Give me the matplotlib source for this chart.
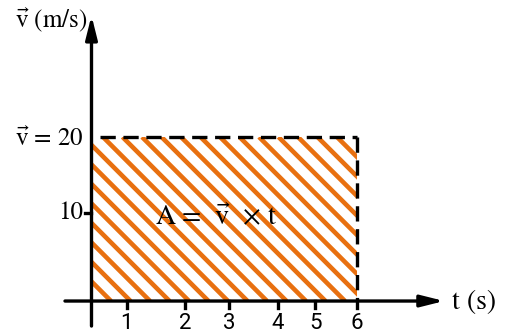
import matplotlib
matplotlib.use("Agg")
import matplotlib.pyplot as plt
import numpy as np

# chart values
t_end = 6          # s
v_const = 20       # m/s
t_ticks = ["1", "2", "3", "4", "5", "6"]
t_tick_pos = [0.80, 2.12, 3.11, 4.21, 5.06, 6.0]   # where the labels sit on the t axis
v_ticks = ["10"]
v_tick_pos = [10.7]

orange = "#E87010"

plt.rcParams["mathtext.fontset"] = "stix"
plt.rcParams["font.family"] = ["STIXGeneral", "DejaVu Sans"]
plt.rcParams["lines.scale_dashes"] = False


def main():
	fig = plt.figure(figsize=(5.13, 3.34), dpi=100)
	ax = fig.add_axes([0, 0, 1, 1])
	ax.set_xlim(-2.07, 9.536)
	ax.set_ylim(-4.02, 36.7)
	ax.axis("off")

	# area under v(t), filled with diagonal stripes clipped to the bar
	bars = ax.bar(0, v_const, width=t_end, align="edge", fill=False,
		linewidth=0)
	area = bars[0]
	# stripes at 45 degrees on screen: convert a pixel step into data units
	px_x = 44.2   # pixels per second
	px_y = 8.2    # pixels per m/s
	run = v_const * px_y / px_x
	step = 19.5 / px_x
	for x0 in np.arange(-run - step, t_end + step, step):
		ln, = ax.plot([x0, x0 + run], [v_const, 0], color=orange, lw=3.3,
			solid_capstyle="butt")
		ln.set_clip_path(area)

	# dashed border of the area
	ax.plot([0.2, t_end], [v_const, v_const], color="black", lw=2.4,
		dashes=(11, 5.5))
	ax.plot([t_end, t_end], [v_const, 0], color="black", lw=2.4,
		dashes=(11, 5.5))

	# axes with arrows
	arrow = dict(arrowstyle="-|>,head_length=1.4,head_width=0.35",
		color="black", lw=2.4, shrinkA=0, shrinkB=0)
	ax.annotate("", xy=(7.98, 0), xytext=(-0.6, 0), arrowprops=arrow)
	ax.annotate("", xy=(0, 34.8), xytext=(0, -3.05), arrowprops=arrow)

	# ticks on t axis
	for pos, lab in zip(t_tick_pos, t_ticks):
		ax.plot([pos, pos], [0, -0.85], color="black", lw=2.4)
		ax.text(pos, -2.7, lab, ha="center", va="center", fontsize=16,
			family=["Roboto", "DejaVu Sans"])

	# ticks on v axis
	for pos, lab in zip(v_tick_pos, v_ticks):
		ax.plot([-0.15, 0], [pos, pos], color="black", lw=2.4)
		ax.text(-0.19, pos, lab, ha="right", va="center", fontsize=18)

	ax.text(-0.17, 18.9, r"$\vec{\mathrm{v}}$ = 20", ha="right",
		va="baseline", fontsize=18)
	ax.text(-1.73, 33.4, r"$\vec{\mathrm{v}}$ (m/s)", ha="left",
		va="baseline", fontsize=18)
	ax.text(8.16, -0.98, "t (s)", ha="left", va="baseline", fontsize=20)
	ax.text(2.82, 9.4, r"A =  $\vec{\mathrm{v}}$  × t", ha="center",
		va="baseline", fontsize=20)

	fig.savefig("out.png", dpi=100)


if __name__ == "__main__":
	main()
